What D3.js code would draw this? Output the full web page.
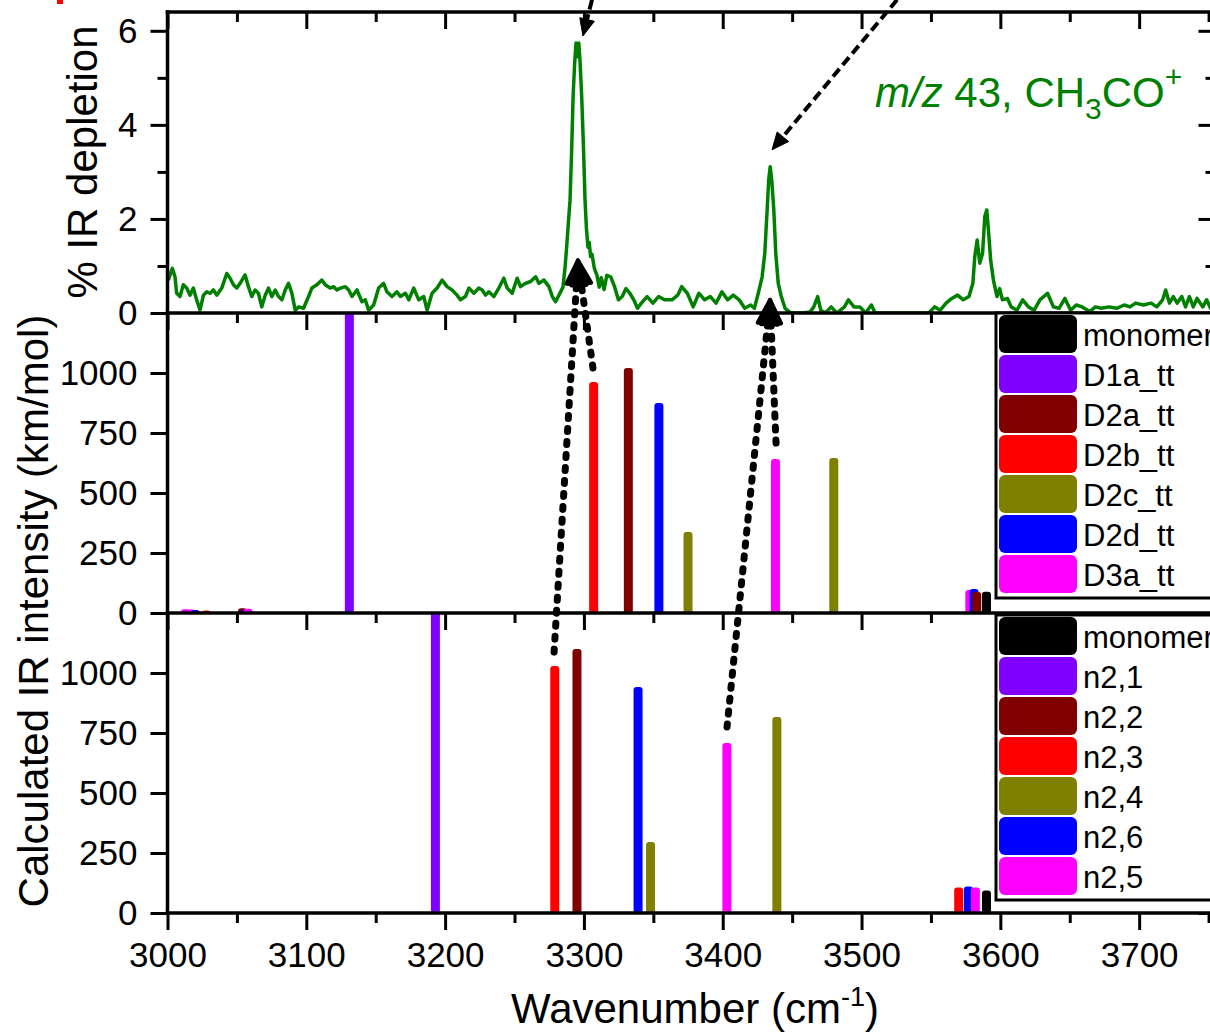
<!DOCTYPE html>
<html>
<head>
<meta charset="utf-8">
<script src="https://cdn.jsdelivr.net/npm/d3@7/dist/d3.min.js"></script>
<style>
  body { margin: 0; background: #fff; }
  svg { display: block; font-family: "Liberation Sans", Arial, sans-serif; }
</style>
</head>
<body>
<svg id="chart" width="1210" height="1035"></svg>
<script>
///////////////////////////////////////////////////////////////////////////////
// data

var xMajorTicks = [3000, 3100, 3200, 3300, 3400, 3500, 3600, 3700];
var xMinorTicks = [3050, 3150, 3250, 3350, 3450, 3550, 3650, 3750];
var depletionTicks = [0, 2, 4, 6];
var depletionMinor = [1, 3, 5];
var intensityTicks = [0, 250, 500, 750, 1000];

// IR depletion trace, m/z 43 : [wavenumber, % depletion]
var irTrace = [
  [3000.6,0.70],[3003.5,0.95],[3005.4,0.77],[3006.6,0.42],[3009.0,0.35],[3011.4,0.60],
  [3013.8,0.53],[3016.2,0.38],[3018.6,0.53],[3021.0,0.28],[3023.4,0.06],[3025.9,0.38],
  [3028.3,0.45],[3030.7,0.42],[3033.1,0.49],[3035.5,0.38],[3039.1,0.53],[3042.7,0.84],
  [3045.1,0.74],[3047.5,0.60],[3049.9,0.53],[3052.3,0.63],[3055.9,0.81],[3058.3,0.56],
  [3060.7,0.35],[3063.1,0.49],[3065.5,0.42],[3067.9,0.13],[3070.4,0.38],[3072.8,0.53],
  [3075.2,0.35],[3077.6,0.49],[3080.0,0.35],[3082.4,0.28],[3084.8,0.49],[3087.2,0.63],
  [3089.6,0.42],[3092.0,0.06],[3094.4,0.13],[3098.0,0.10],[3101.6,0.35],[3104.0,0.53],
  [3107.6,0.60],[3111.2,0.70],[3113.6,0.60],[3117.2,0.53],[3119.7,0.56],[3122.1,0.49],
  [3124.5,0.53],[3128.1,0.56],[3130.5,0.49],[3132.9,0.35],[3136.5,0.49],[3140.1,0.24],
  [3142.5,0.28],[3144.9,0.06],[3148.5,0.17],[3152.1,0.53],[3155.7,0.63],[3158.1,0.45],
  [3161.7,0.35],[3165.3,0.45],[3167.8,0.35],[3171.4,0.42],[3173.8,0.28],[3177.4,0.53],
  [3181.0,0.28],[3184.6,0.35],[3187.0,0.06],[3190.6,0.42],[3194.2,0.53],[3197.8,0.70],
  [3201.4,0.56],[3205.0,0.49],[3208.6,0.38],[3211.0,0.28],[3214.6,0.35],[3217.1,0.53],
  [3220.7,0.42],[3224.3,0.53],[3226.7,0.49],[3229.1,0.38],[3231.5,0.45],[3235.1,0.35],
  [3238.7,0.53],[3242.3,0.74],[3244.7,0.53],[3248.3,0.42],[3251.9,0.74],[3254.3,0.56],
  [3257.9,0.63],[3261.6,0.67],[3265.2,0.77],[3267.6,0.63],[3271.2,0.70],[3274.8,0.56],
  [3277.2,0.35],[3279.6,0.24],[3283.2,0.45],[3284.9,0.55],[3286.5,1.00],[3287.8,1.50],
  [3289.0,2.00],[3290.0,2.40],[3291.2,3.50],[3292.2,4.60],[3293.3,5.30],[3294.3,5.74],
  [3295.3,5.45],[3296.3,5.74],[3297.2,5.35],[3298.4,4.60],[3299.7,3.50],[3300.8,2.40],
  [3301.8,1.80],[3302.9,1.40],[3303.8,1.50],[3304.8,1.20],[3305.8,1.25],[3307.5,0.95],
  [3309.4,0.80],[3311.0,0.55],[3312.5,0.75],[3314.5,0.50],[3316.5,0.80],[3319.3,0.77],
  [3322.1,0.56],[3324.8,0.28],[3327.6,0.35],[3330.3,0.52],[3333.1,0.42],[3335.9,0.28],
  [3338.6,0.10],[3341.4,0.21],[3345.5,0.35],[3349.7,0.21],[3353.8,0.35],[3358.0,0.28],
  [3363.5,0.28],[3367.6,0.38],[3370.4,0.56],[3374.5,0.42],[3378.7,0.13],[3382.8,0.42],
  [3387.0,0.28],[3391.1,0.35],[3395.2,0.21],[3399.4,0.45],[3403.5,0.28],[3407.6,0.38],
  [3411.8,0.28],[3415.9,0.10],[3420.1,0.17],[3422.8,0.10],[3425.6,0.42],[3428.4,0.77],
  [3430.3,1.27],[3432.0,2.19],[3433.1,2.83],[3434.2,3.11],[3435.3,2.83],[3436.8,2.19],
  [3438.2,1.27],[3440.0,0.63],[3442.2,0.35],[3444.9,0.10],[3449.1,0.00],[3457.3,0.00],
  [3462.9,0.02],[3465.6,0.13],[3468.4,0.35],[3470.6,0.06],[3473.9,0.00],[3478.1,0.13],
  [3482.2,0.00],[3487.7,0.13],[3490.5,0.28],[3494.6,0.13],[3498.8,0.13],[3502.9,0.00],
  [3507.1,0.17],[3509.8,0.00],[3548.5,0.00],[3552.6,0.13],[3556.7,0.06],[3560.9,0.21],
  [3565.0,0.31],[3569.2,0.38],[3573.3,0.28],[3577.4,0.35],[3580.2,0.63],[3581.6,1.20],
  [3583.3,1.55],[3585.2,1.06],[3587.2,1.27],[3588.8,2.05],[3590.2,2.19],[3591.6,1.70],
  [3593.0,1.13],[3595.0,0.70],[3597.6,0.35],[3599.5,0.52],[3601.5,0.28],[3605.1,0.31],
  [3607.8,0.13],[3612.0,0.06],[3616.1,0.28],[3620.2,0.13],[3624.4,0.06],[3628.5,0.28],
  [3634.0,0.42],[3638.2,0.13],[3642.3,0.10],[3646.5,0.31],[3650.6,0.06],[3654.7,0.17],
  [3658.9,0.13],[3664.4,0.03],[3668.5,0.13],[3672.7,0.10],[3678.2,0.13],[3683.7,0.10],
  [3689.3,0.17],[3693.4,0.13],[3697.5,0.21],[3703.1,0.17],[3708.6,0.21],[3712.7,0.13],
  [3716.9,0.28],[3719.1,0.49],[3721.8,0.21],[3724.6,0.35],[3727.4,0.21],[3730.7,0.35],
  [3733.4,0.13],[3736.2,0.35],[3739.0,0.13],[3741.7,0.31],[3745.9,0.13],[3748.6,0.28],
  [3751.4,0.10],[3755.0,0.20]
];

// calculated sticks, D-series (middle panel)
var dimerSeries = ["monomer", "D1a_tt", "D2a_tt", "D2b_tt", "D2c_tt", "D2d_tt", "D3a_tt"];
var dimerSticks = [
  {s: "D3a_tt", wn: 3013, ir: 16}, {s: "D3a_tt", wn: 3017, ir: 15},
  {s: "D2d_tt", wn: 3020, ir: 12}, {s: "D2b_tt", wn: 3028, ir: 10},
  {s: "D2a_tt", wn: 3054, ir: 20}, {s: "D2d_tt", wn: 3056, ir: 14},
  {s: "D3a_tt", wn: 3058, ir: 18},
  {s: "D1a_tt", wn: 3131, ir: 1400},
  {s: "D2b_tt", wn: 3307, ir: 962},
  {s: "D2a_tt", wn: 3332, ir: 1021},
  {s: "D2d_tt", wn: 3354, ir: 875},
  {s: "D2c_tt", wn: 3375, ir: 338},
  {s: "D3a_tt", wn: 3438, ir: 642},
  {s: "D2c_tt", wn: 3480, ir: 646},
  {s: "D3a_tt", wn: 3578, ir: 96}, {s: "D2d_tt", wn: 3581, ir: 100},
  {s: "D2a_tt", wn: 3583, ir: 88}, {s: "monomer", wn: 3590, ir: 89}
];

// calculated sticks, n2 series (bottom panel)
var n2Series = ["monomer", "n2,1", "n2,2", "n2,3", "n2,4", "n2,6", "n2,5"];
var n2Sticks = [
  {s: "n2,1", wn: 3193, ir: 1400},
  {s: "n2,3", wn: 3279, ir: 1029},
  {s: "n2,2", wn: 3295, ir: 1100},
  {s: "n2,6", wn: 3339, ir: 942},
  {s: "n2,4", wn: 3348, ir: 296},
  {s: "n2,5", wn: 3403, ir: 708},
  {s: "n2,4", wn: 3439, ir: 817},
  {s: "n2,3", wn: 3570, ir: 106}, {s: "n2,6", wn: 3577, ir: 110},
  {s: "n2,5", wn: 3582, ir: 106}, {s: "monomer", wn: 3590, ir: 94}
];

var palette = ["#000000", "#8000ff", "#800000", "#ff0000", "#808000", "#0000ff", "#ff00ff"];

///////////////////////////////////////////////////////////////////////////////

var svg = d3.select("#chart");

var x = d3.scaleLinear().domain([3000, 3755]).range([167.5, 1215.5]);
var yTop = d3.scaleLinear().domain([0, 6.4]).range([313, 12]);
var yMid = d3.scaleLinear().domain([0, 1250]).range([613, 313]);
var yBot = d3.scaleLinear().domain([0, 1250]).range([913, 613]);

var panels = [
  {id: "top", y: yTop},
  {id: "mid", y: yMid},
  {id: "bot", y: yBot}
];

var defs = svg.append("defs");
panels.forEach(function (p) {
  var r = p.y.range();
  defs.append("clipPath").attr("id", "clip-" + p.id)
    .append("rect")
    .attr("x", x.range()[0]).attr("y", r[1])
    .attr("width", x.range()[1] - x.range()[0]).attr("height", r[0] - r[1]);
});

// small red fragment of a cut-off label at the top left
svg.append("rect").attr("x", 57).attr("y", 0).attr("width", 6).attr("height", 4)
  .attr("fill", "#ff0000");

///////////////////////////////////////////////////////////////////////////////
// spectrum

var line = d3.line()
  .x(function (d) { return x(d[0]); })
  .y(function (d) { return yTop(d[1]); });

svg.append("path")
  .datum(irTrace)
  .attr("clip-path", "url(#clip-top)")
  .attr("d", line)
  .attr("fill", "none")
  .attr("stroke", "#008000")
  .attr("stroke-width", 3.5)
  .attr("stroke-linejoin", "round");

// sticks
var drawSticks = function (sticks, series, y, id) {
  var color = d3.scaleOrdinal().domain(series).range(palette);
  svg.append("g").attr("clip-path", "url(#clip-" + id + ")")
    .selectAll("rect").data(sticks).enter().append("rect")
    .attr("x", function (d) { return x(d.wn) - 4.5; })
    .attr("width", 9)
    .attr("y", function (d) { return y(d.ir); })
    .attr("height", function (d) { return y(0) - y(d.ir) + 4; })
    .attr("rx", 3)
    .attr("fill", function (d) { return color(d.s); });
};
drawSticks(dimerSticks, dimerSeries, yMid, "mid");
drawSticks(n2Sticks, n2Series, yBot, "bot");

///////////////////////////////////////////////////////////////////////////////
// axes

var styleAxis = function (g) {
  g.select(".domain").remove();
  g.selectAll(".tick line").attr("stroke", "#000").attr("stroke-width", 3);
  g.selectAll(".tick text").attr("fill", "#000").style("font-size", "35px")
    .style("font-family", "'Liberation Sans', Arial, sans-serif");
};

var fmt = d3.format("d");

var xRows = [yTop.range()[1], 313, 613, 913];
xRows.forEach(function (yy, i) {
  var major = d3.axisBottom(x).tickValues(xMajorTicks).tickSize(17).tickSizeOuter(0)
    .tickPadding(12).tickFormat(fmt);
  if (i < xRows.length - 1) major.tickFormat("");
  svg.append("g").attr("transform", "translate(0," + yy + ")").call(major).call(styleAxis);
  var minor = d3.axisBottom(x).tickValues(xMinorTicks).tickSize(10).tickSizeOuter(0).tickFormat("");
  svg.append("g").attr("transform", "translate(0," + yy + ")").call(minor).call(styleAxis);
});

var yAxes = [
  {y: yTop, major: depletionTicks, minor: depletionMinor},
  {y: yMid, major: intensityTicks, minor: []},
  {y: yBot, major: intensityTicks, minor: []}
];
yAxes.forEach(function (a) {
  var left = d3.axisLeft(a.y).tickValues(a.major).tickSize(17).tickSizeOuter(0)
    .tickPadding(13).tickFormat(fmt);
  svg.append("g").attr("transform", "translate(" + x.range()[0] + ",0)").call(left).call(styleAxis);
  var leftMinor = d3.axisLeft(a.y).tickValues(a.minor).tickSize(10).tickFormat("");
  svg.append("g").attr("transform", "translate(" + x.range()[0] + ",0)").call(leftMinor).call(styleAxis);
  // mirrored right axis, ticks inward
  var right = d3.axisLeft(a.y).tickValues(a.major).tickSize(17).tickFormat("");
  svg.append("g").attr("transform", "translate(" + x.range()[1] + ",0)").call(right).call(styleAxis);
  var rightMinor = d3.axisLeft(a.y).tickValues(a.minor).tickSize(10).tickFormat("");
  svg.append("g").attr("transform", "translate(" + x.range()[1] + ",0)").call(rightMinor).call(styleAxis);
});

// frame lines
var frame = svg.append("g").attr("stroke", "#000").attr("stroke-width", 3.5)
  .attr("stroke-linecap", "square");
xRows.forEach(function (yy) {
  frame.append("line").attr("x1", x.range()[0]).attr("x2", x.range()[1])
    .attr("y1", yy).attr("y2", yy);
});
[x.range()[0], x.range()[1]].forEach(function (xx) {
  frame.append("line").attr("x1", xx).attr("x2", xx)
    .attr("y1", xRows[0]).attr("y2", xRows[3]);
});

///////////////////////////////////////////////////////////////////////////////
// legends (cut by the right edge of the picture, as in the original)

var drawLegend = function (series, top) {
  var g = svg.append("g");
  g.append("rect")
    .attr("x", 996).attr("y", top)
    .attr("width", 300).attr("height", 285)
    .attr("fill", "#fff").attr("stroke", "#000").attr("stroke-width", 3);
  series.forEach(function (name, i) {
    var yy = top + 2 + i * 40;
    g.append("rect")
      .attr("x", 999).attr("y", yy)
      .attr("width", 78).attr("height", 38).attr("rx", 6)
      .attr("fill", palette[i]);
    g.append("text")
      .attr("x", 1083).attr("y", yy + 19 + 12)
      .style("font-size", "31px")
      .text(name);
  });
};
drawLegend(dimerSeries, 313);
drawLegend(n2Series, 615);

///////////////////////////////////////////////////////////////////////////////
// axis titles and annotation

svg.append("text")
  .attr("transform", "translate(97,162) rotate(-90)")
  .attr("text-anchor", "middle")
  .style("font-size", "42px")
  .text("% IR depletion");

svg.append("text")
  .attr("transform", "translate(48,611) rotate(-90)")
  .attr("text-anchor", "middle")
  .style("font-size", "42px")
  .text("Calculated IR intensity (km/mol)");

var xt = svg.append("text")
  .attr("x", 695).attr("y", 1023)
  .attr("text-anchor", "middle")
  .style("font-size", "42px");
xt.append("tspan").text("Wavenumber (cm");
xt.append("tspan").attr("dy", -17).style("font-size", "27px").text("-1");
xt.append("tspan").attr("dy", 17).text(")");

var ann = svg.append("text")
  .attr("x", 875).attr("y", 107)
  .attr("fill", "#008000")
  .style("font-size", "42px");
ann.append("tspan").style("font-style", "italic").text("m/z");
ann.append("tspan").text(" 43, CH");
ann.append("tspan").attr("dy", 12).style("font-size", "30px").text("3");
ann.append("tspan").attr("dy", -12).text("CO");
ann.append("tspan").attr("dy", -20).style("font-size", "30px").text("+");

///////////////////////////////////////////////////////////////////////////////
// arrows linking calculated bands to the observed peaks

var arrow = function (x1, y1, x2, y2, opts) {
  var dx = x2 - x1, dy = y2 - y1;
  var len = Math.sqrt(dx * dx + dy * dy);
  var ux = dx / len, uy = dy / len;
  var bx = x2 - ux * opts.head * 0.8, by = y2 - uy * opts.head * 0.8;
  svg.append("line")
    .attr("x1", x1).attr("y1", y1).attr("x2", bx).attr("y2", by)
    .attr("stroke", "#000").attr("stroke-width", opts.width)
    .attr("stroke-dasharray", opts.dash)
    .attr("stroke-linecap", opts.cap);
  var hx = x2 - ux * opts.head, hy = y2 - uy * opts.head;
  var w = opts.headWidth / 2;
  var pts = [[x2, y2], [hx - uy * w, hy + ux * w], [hx + uy * w, hy - ux * w]];
  svg.append("polygon")
    .attr("points", pts.map(function (p) { return p.join(","); }).join(" "))
    .attr("fill", "#000").attr("stroke", "#000")
    .attr("stroke-width", opts.cap === "round" ? 4 : 1)
    .attr("stroke-linejoin", "round");
};

var dotted = {width: 7, dash: "3,10", cap: "round", head: 24, headWidth: 20};
var dashed = {width: 4, dash: "10,5", cap: "butt", head: 17, headWidth: 15};

arrow(x(3278.5), yBot(1087), x(3295.7), yTop(1.12), dotted);
arrow(x(3306.5), yMid(1021), x(3295.7), yTop(1.12), dotted);
arrow(x(3403.1), yBot(775), x(3434.1), yTop(0.28), dotted);
arrow(x(3438.4), yMid(708), x(3434.1), yTop(0.28), dotted);

arrow(x(3305.8), yTop(6.66), x(3299.3), yTop(5.89), dashed);
arrow(x(3525.6), yTop(6.66), x(3435.5), yTop(3.47), dashed);
</script>
</body>
</html>
